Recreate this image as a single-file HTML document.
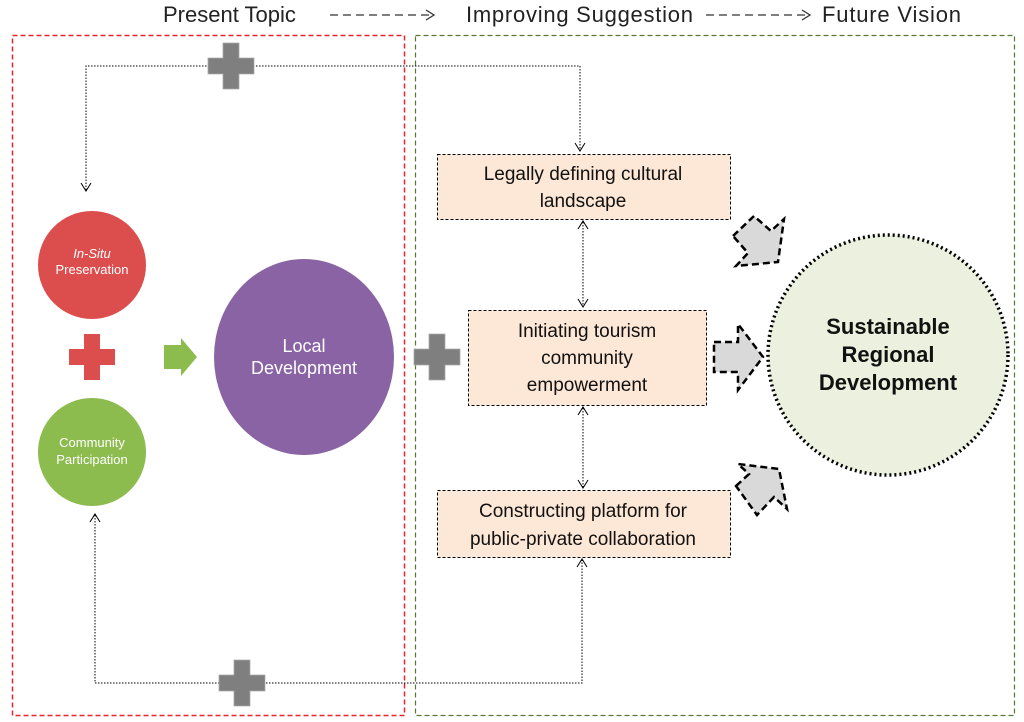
<!DOCTYPE html>
<html><head><meta charset="utf-8"><style>
html,body{margin:0;padding:0;background:#fff;}
svg{display:block;font-family:"Liberation Sans",sans-serif;}
</style></head><body>
<svg width="1024" height="722" viewBox="0 0 1024 722" xmlns="http://www.w3.org/2000/svg">
<!-- header -->
<text x="163" y="22" font-size="22" fill="#222">Present Topic</text>
<line x1="330" y1="15" x2="432" y2="15" stroke="#333" stroke-width="1.3" stroke-dasharray="8,5"/>
<path d="M426,10 L434,15 L426,20" fill="none" stroke="#333" stroke-width="1.3"/>
<text x="466" y="22" font-size="22" fill="#222" textLength="227">Improving Suggestion</text>
<line x1="706" y1="15" x2="808" y2="15" stroke="#333" stroke-width="1.3" stroke-dasharray="8,5"/>
<path d="M802,10 L810,15 L802,20" fill="none" stroke="#333" stroke-width="1.3"/>
<text x="822" y="22" font-size="22" fill="#222" textLength="139">Future Vision</text>
<!-- frames -->
<rect x="12.5" y="35.5" width="392" height="680" fill="none" stroke="#e8262a" stroke-width="1.5" stroke-dasharray="5,3"/>
<rect x="415.5" y="35.5" width="599" height="680" fill="none" stroke="#5a7a30" stroke-width="1.2" stroke-dasharray="5,3"/>
<!-- connectors -->
<g fill="none" stroke="#000" stroke-width="1" stroke-dasharray="1.5,1.5">
<path d="M86,190 L86,66 L580,66 L580,150"/>
<path d="M95,515 L95,683 L582,683 L582,560"/>
<path d="M583,222 L583,306"/>
<path d="M583,408 L583,487"/>
</g>
<g fill="none" stroke="#000" stroke-width="1">
<path d="M81,183 L86,191 L91,183"/>
<path d="M575,143 L580,151 L585,143"/>
<path d="M90,522 L95,514 L100,522"/>
<path d="M577,567 L582,559 L587,567"/>
<path d="M578,229 L583,221 L588,229"/>
<path d="M578,299 L583,307 L588,299"/>
<path d="M578,415 L583,407 L588,415"/>
<path d="M578,480 L583,488 L588,480"/>
</g>
<!-- gray pluses -->
<path d="M223,43 h16 v15 h15 v16 h-15 v15 h-16 v-15 h-15 v-16 h15z" fill="#7f7f7f" stroke="#aaa" stroke-width="0.8"/>
<path d="M234,660 h16 v15 h15 v16 h-15 v15 h-16 v-15 h-15 v-16 h15z" fill="#7f7f7f" stroke="#aaa" stroke-width="0.8"/>
<path d="M429,334 h16 v15 h15 v16 h-15 v15 h-16 v-15 h-15 v-16 h15z" fill="#7f7f7f" stroke="#aaa" stroke-width="0.8"/>
<!-- circles -->
<circle cx="92" cy="265" r="54" fill="#dc4e4e"/>
<text x="92" y="258" font-size="13" fill="#fff" text-anchor="middle" font-style="italic">In-Situ</text>
<text x="92" y="274" font-size="13" fill="#fff" text-anchor="middle">Preservation</text>
<circle cx="92" cy="452" r="54" fill="#8cbb4e"/>
<text x="92" y="447" font-size="13" fill="#fff" text-anchor="middle">Community</text>
<text x="92" y="464" font-size="13" fill="#fff" text-anchor="middle">Participation</text>
<path d="M84,334 h16 v15 h15 v16 h-15 v15 h-16 v-15 h-15 v-16 h15z" fill="#dc4e4e"/>
<path d="M164,345 h17 v-7 l16,19 l-16,19 v-7 h-17z" fill="#8cbb4e"/>
<ellipse cx="304" cy="357" rx="90" ry="98" fill="#8a63a5"/>
<text x="304" y="352" font-size="18" fill="#fff" text-anchor="middle">Local</text>
<text x="304" y="374" font-size="18" fill="#fff" text-anchor="middle">Development</text>
<!-- boxes -->
<rect x="437.5" y="154.5" width="293" height="65" fill="#fde7d6" stroke="#000" stroke-width="1" stroke-dasharray="3,2"/>
<text x="583" y="180" font-size="19" fill="#111" text-anchor="middle">Legally defining cultural</text>
<text x="583" y="207" font-size="19" fill="#111" text-anchor="middle">landscape</text>
<rect x="468.5" y="310.5" width="238" height="95" fill="#fde7d6" stroke="#000" stroke-width="1" stroke-dasharray="3,2"/>
<text x="587" y="337" font-size="19" fill="#111" text-anchor="middle">Initiating tourism</text>
<text x="587" y="364" font-size="19" fill="#111" text-anchor="middle">community</text>
<text x="587" y="391" font-size="19" fill="#111" text-anchor="middle">empowerment</text>
<rect x="437.5" y="490.5" width="293" height="67" fill="#fde7d6" stroke="#000" stroke-width="1" stroke-dasharray="3,2"/>
<text x="583" y="517" font-size="19" fill="#111" text-anchor="middle">Constructing platform for</text>
<text x="583" y="545" font-size="19" fill="#111" text-anchor="middle">public-private collaboration</text>
<!-- dashed arrows -->
<g fill="#d9d9d9" stroke="#000" stroke-width="2.5" stroke-dasharray="7,4">
<path d="M733,236 L754,216 L771,231 L784,219 L778,262 L736,266 L748,253z"/>
<path d="M714,342 L738,342 L738,324 L763,357 L738,390 L738,372 L714,372z"/>
<path d="M736,486 L749,474 L738,464 L779,469 L787,509 L774,497 L757,515z"/>
</g>
<!-- big circle -->
<circle cx="888" cy="355" r="120" fill="#ebf1de" stroke="#000" stroke-width="3.5" stroke-dasharray="2,3"/>
<text x="888" y="334" font-size="22" font-weight="bold" fill="#111" text-anchor="middle">Sustainable</text>
<text x="888" y="362" font-size="22" font-weight="bold" fill="#111" text-anchor="middle">Regional</text>
<text x="888" y="390" font-size="22" font-weight="bold" fill="#111" text-anchor="middle">Development</text>
</svg>
</body></html>
